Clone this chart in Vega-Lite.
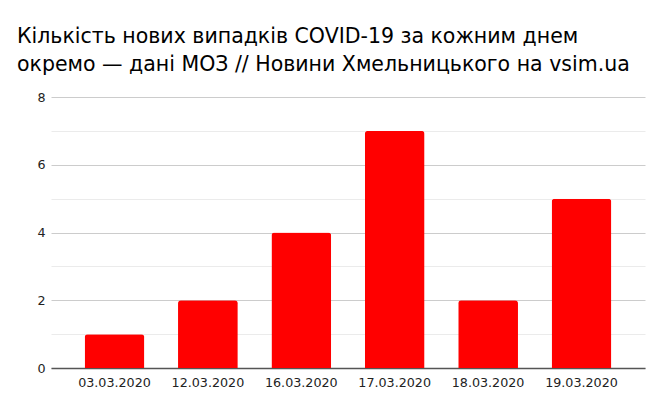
{
  "$schema": "https://vega.github.io/schema/vega-lite/v6.json",
  "width": 594,
  "height": 271,
  "autosize": {"type": "none"},
  "padding": {"left": 51, "top": 97, "right": 20, "bottom": 43},
  "background": "white",
  "config": {
    "font": "DejaVu Sans",
    "view": {"stroke": null},
    "title": {"fontSize": 20.5, "fontWeight": "normal", "color": "#000000", "anchor": "start", "frame": "group", "dx": -34, "offset": 16, "lineHeight": 28}
  },
  "title": {"text": ["Кількість нових випадків COVID-19 за кожним днем", "окремо — дані МОЗ // Новини Хмельницького на vsim.ua"]},
  "data": {
    "values": [
      {"date": "03.03.2020", "cases": 1},
      {"date": "12.03.2020", "cases": 2},
      {"date": "16.03.2020", "cases": 4},
      {"date": "17.03.2020", "cases": 7},
      {"date": "18.03.2020", "cases": 2},
      {"date": "19.03.2020", "cases": 5}
    ]
  },
  "mark": {"type": "bar", "color": "#ff0000", "cornerRadiusTopLeft": 3, "cornerRadiusTopRight": 3},
  "encoding": {
    "x": {
      "field": "date",
      "type": "nominal",
      "sort": null,
      "title": null,
      "scale": {"paddingInner": 0.36, "paddingOuter": 0.36},
      "axis": {"labelAngle": 0, "labelFontSize": 12.7, "labelColor": "#222222", "ticks": false, "labelPadding": 8, "domainColor": "#555555", "domainWidth": 1.5}
    },
    "y": {
      "field": "cases",
      "type": "quantitative",
      "title": null,
      "scale": {"domain": [0, 8], "nice": false},
      "axis": {
        "values": [0, 1, 2, 3, 4, 5, 6, 7, 8],
        "labelExpr": "datum.value % 2 === 0 ? datum.label : ''",
        "labelFontSize": 12.7,
        "labelColor": "#222222",
        "labelPadding": 6,
        "ticks": false,
        "domain": false,
        "gridColor": {"condition": {"test": "datum.value % 2 === 0", "value": "#cccccc"}, "value": "#ebebeb"}
      }
    }
  }
}
